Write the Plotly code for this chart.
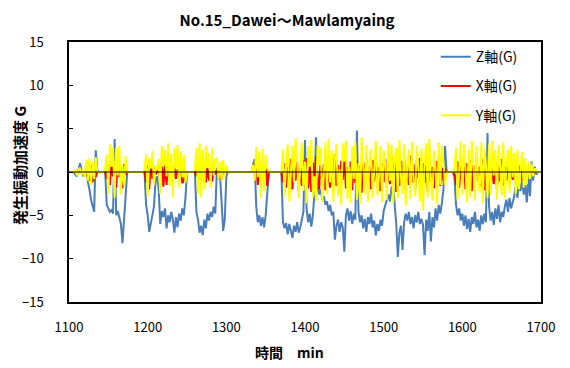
import plotly.graph_objects as go

# time axis: samples every 2 min from 1100 to 1700
time_start = 1100
time_step = 2

# Z axis (G) - blue, rows of 10 samples (20 min each)
z_vals = [
    0, 0, 0, 0, -0.3, -0.5, 0.2, 1.0, 0.2, -0.4,            # 1100
    -0.3, 0.8, -1.2, -2.0, -3.2, -3.8, -4.6, 2.5, 0.2, 0,    # 1120
    0, 0, 0, 0, -3.8, -4.2, -4.6, -4.4, -4.8, 3.8,           # 1140
    -5.0, -4.5, -5.2, -6.0, -8.2, -5.0, -2.0, 0, 0, 0,       # 1160
    0, 0, 0, 0, 0, 0, 0, 0, 0, -3.8,                         # 1180
    -5.0, -6.9, -6.0, -5.2, -4.0, -1.0, -0.5, -2.0, -6.0, -4.5,  # 1200
    -5.2, -4.2, -6.5, -5.0, -5.8, -4.6, -5.5, -7.0, -5.2, -6.4,  # 1220
    -4.8, -5.6, -4.2, -5.0, -3.0, 0, 0, 0, 0, 0,             # 1240
    0, -4.6, -5.5, -7.0, -6.2, -7.3, -5.5, -6.5, -4.8, -5.6,  # 1260
    -4.6, -5.2, -4.0, -4.8, 0.5, -0.8, -0.5, -3.5, -6.8, -5.5,  # 1280
    -0.5, 0, 0, 0, 0, 0, 0, 0, 0, 0,                         # 1300
    0, 0, 0, 0, 0, 0, 0, 0.8, 1.5, -4.0,                     # 1320
    -5.8, -5.0, -6.2, -5.2, -6.4, -5.0, -2.0, 0, 0, 0,       # 1340
    0, 0, 0, 0, 0, 0, -5.8, -6.5, -5.9, -7.2,                # 1360
    -6.0, -6.8, -7.6, -6.2, -6.9, -5.8, -7.0, -6.4, -5.5, -4.6,  # 1380
    3.7, -4.2, -5.8, -4.8, -6.3, -5.0, -2.5, 4.0, -1.8, -2.6,   # 1400
    -2.0, -3.2, -2.8, -3.8, -3.4, -4.5, -3.8, -5.0, -4.6, -7.8,  # 1420
    -6.2, -5.5, -6.9, -5.8, -6.4, -9.2, -5.0, -4.2, -5.6, -4.5,  # 1440
    -6.0, -4.8, -5.5, 4.8, -4.6, -5.8, -5.0, -6.5, -5.4, -6.9,   # 1460
    -5.2, -6.0, -4.8, -6.4, -5.6, -7.3, -6.0, -6.8, -5.5, -6.2,  # 1480
    -4.5, -3.8, -3.0, -2.6, -3.4, -1.8, -1.5, -3.5, -6.0, -9.8,  # 1500
    -7.0, -6.2, -9.0, -5.8, -4.8, -5.6, -4.6, -6.0, -5.2, -6.5,  # 1520
    -5.0, -5.8, -4.6, -6.0, -5.4, -6.1, -9.6, -5.5, -6.8, -4.6,  # 1540
    -8.0, -5.2, -6.4, -4.2, -5.6, -3.8, -4.8, -3.6, -2.0, 3.0,   # 1560
    0, 0, 0, 0, 0, -0.5, -3.8, -5.0, -4.2, -5.6,             # 1580
    -4.8, -6.2, -5.0, -6.6, -5.4, -6.9, -5.2, -6.0, -4.6, -6.4,  # 1600
    -5.5, -6.8, -5.0, -6.0, -4.8, -5.8, 4.5, -4.0, -5.6, -4.6,   # 1620
    -6.1, -4.2, -5.4, -3.8, -5.8, -4.6, -5.2, -4.0, -3.2, -4.6,  # 1640
    -3.0, -4.2, -3.5, -2.8, -1.5, -3.0, -1.2, -2.2, -0.8, -2.6,  # 1660
    -1.5, -3.5, -0.5, -2.8, 1.2, -1.0, 0.6, -0.3, 0, 0,      # 1680
    0,                                                       # 1700
]

# X axis (G) - red
x_vals = [
    0, 0, 0, 0, 0.1, -0.2, 0.1, 0.1, 0, -0.2,                # 1100
    0.1, -0.5, 0.6, -1.0, 0.8, -1.2, 0.5, -0.6, 0, 0,        # 1120
    0, 0, 0, 0, -0.8, 0.6, -1.5, 1.0, -0.5, 0.8,             # 1140
    -1.8, 1.2, -0.6, 0.3, -1.9, 0.9, -0.3, 0, 0, 0,          # 1160
    0, 0, 0, 0, 0, 0, 0, 0, 0, -1.2,                         # 1180
    0.8, -2.0, 1.0, -0.8, 0.5, -0.3, 0, 0.5, -1.0, 1.2,      # 1200
    -1.7, 0.8, -1.5, 1.0, -0.6, 0.4, -1.2, 0.6, -0.8, 0.3,   # 1220
    -0.5, 0.9, -1.3, -1.0, 0, 0, 0, 0, 0, 0,                 # 1240
    0, -0.5, 0.6, -0.8, 0.4, -0.6, 1.0, -1.2, 0.5, -1.0,     # 1260
    0.8, -1.1, 0.4, -0.3, 0.2, -0.4, 0.3, -0.9, 0.5, -0.3,   # 1280
    0.2, 0, 0, 0, 0, 0, 0, 0, 0, 0,                          # 1300
    0, 0, 0, 0, 0, 0, 0, 0.5, -0.3, 1.8,                     # 1320
    -1.5, 0.8, -0.6, 1.2, -0.5, 0.6, -1.6, 0, 0, 0,          # 1340
    0, 0, 0, 0, 0, 0, -1.2, 1.0, -1.8, 0.6,                  # 1360
    -1.4, 1.5, -2.0, 0.8, -1.0, 1.2, -2.2, 0.5, -1.6, 1.4,   # 1380
    -0.8, 1.6, -1.9, 0.7, -2.3, 1.1, -1.2, 1.8, -0.6, -2.0,  # 1400
    1.3, -1.5, 0.9, -2.1, 1.6, -0.7, -1.8, 1.0, -1.3, 2.0,   # 1420
    -1.6, 0.8, -2.2, 1.3, -0.9, 1.7, -1.9, 0.6, -1.4, 1.2,   # 1440
    -2.1, 0.9, -1.3, 1.5, -1.8, 0.7, -2.4, 1.2, -0.8, 1.6,   # 1460
    -1.5, 0.6, -2.0, 1.4, -1.1, 1.8, -1.7, 0.5, -2.2, 1.0,   # 1480
    -1.2, 1.5, -1.9, 0.8, -1.4, 2.0, -1.0, 1.1, -2.3, 0.7,   # 1500
    -1.6, 1.3, -0.9, 1.7, -2.1, 0.6, -1.5, 1.9, -1.2, 0.9,   # 1520
    -2.0, 1.4, -0.7, 1.6, -1.8, 1.0, -1.3, 0.8, -2.2, 1.5,   # 1540
    -1.1, 0.6, -1.9, 1.3, -0.8, 1.7, -1.6, 0.5, -1.0, 0.4,   # 1560
    0, 0, 0, 0, 0, -0.3, -1.5, 1.2, -1.8, 0.7,               # 1580
    -1.3, 1.6, -2.0, 1.0, -0.9, 1.4, -2.2, 0.8, -1.5, 1.8,   # 1600
    -1.0, 0.6, -1.7, 1.5, -2.1, 0.9, -1.2, 1.3, -1.9, 0.7,   # 1620
    -1.4, 1.2, -2.0, 0.8, -1.1, 1.5, -1.6, 0.6, -1.0, 0.9,   # 1640
    -1.5, 0.7, -0.9, 1.1, -1.3, 0.5, -0.6, 0.8, -1.0, 0.4,   # 1660
    -0.6, 0.5, -0.4, 0.3, -0.2, 0.2, -0.1, 0, 0, 0,          # 1680
    0,                                                       # 1700
]

# Y axis (G) - yellow
y_vals = [
    0, 0, 0, 0, 0.3, -0.4, 0.2, 0.5, -0.3, 0.2,              # 1100
    -0.6, 1.4, -1.0, 1.6, -1.5, 1.2, -0.8, 1.7, 0, 0,        # 1120
    0, 0, 0, 0.5, 2.0, -2.5, 3.2, 0.6, 2.8, -3.0,            # 1140
    2.8, -0.4, 3.0, -2.6, 0.8, -1.5, 1.8, 0, 0, 0,           # 1160
    0, 0, 0, 0, 0, 0, 0, 0, 0.3, 2.0,                        # 1180
    -2.8, 1.6, 0.4, 2.4, -1.5, 0.8, 0.2, 1.5, -2.5, 3.0,     # 1200
    0.6, 2.6, -0.5, 3.3, -1.6, 2.2, -2.9, 2.8, 0.4, 3.1,     # 1220
    -1.8, 2.4, -0.6, 2.0, -1.2, 0, 0, 0, 0, 0,               # 1240
    0.3, 2.8, -2.5, 3.3, -2.9, 2.6, -2.0, 3.0, 0.5, 2.2,     # 1260
    -1.8, 2.7, -0.4, 1.5, 1.6, -0.8, 1.2, -1.0, 1.4, -0.6,   # 1280
    0.8, 0, 0, 0, 0, 0, 0, 0, 0, 0,                          # 1300
    0, 0, 0, 0, 0, 0, 0, 0.8, -1.0, 2.9,                     # 1320
    -0.6, 2.4, -3.0, 2.7, -2.2, 2.0, 0.4, 0, 0, 0,           # 1340
    0, 0, 0, 0, 0, 0, 2.6, -2.8, 1.0, 3.2,                   # 1360
    -3.4, 0.5, 3.0, -1.2, 3.9, 1.5, -3.0, 0.8, 3.4, -2.2,    # 1380
    1.2, -3.6, 3.0, 0.6, 3.7, -2.9, -0.5, -3.3, 3.1, 0.8,    # 1400
    2.8, -3.5, 1.0, 3.4, -2.6, 3.8, -1.2, 2.5, -3.4, 1.5,    # 1420
    3.2, -2.7, 0.3, -3.8, 3.3, 1.2, 3.6, -3.1, 0.6, -3.6,    # 1440
    3.0, -0.8, 3.5, -3.2, 1.0, -3.7, 4.0, 0.5, -2.6, 3.1,    # 1460
    -3.4, 1.2, 2.6, -3.0, 0.4, 3.6, -2.7, -0.6, 3.0, -3.5,   # 1480
    2.5, 0.8, -3.2, 3.4, -1.0, 3.1, -3.6, 1.3, 2.8, -3.0,    # 1500
    3.7, -0.5, -2.5, 3.2, -3.9, 0.9, 2.6, -3.1, 3.5, -1.2,   # 1520
    -2.8, 3.0, 0.6, -3.4, 2.7, -4.4, 1.1, 3.3, -2.9, 3.8,    # 1540
    -0.8, -3.3, 2.5, 0.4, -3.7, 3.4, -1.5, 3.0, 1.2, -1.5,   # 1560
    0, 0, 0, 0, 0, 0.5, 2.8, -3.2, 0.6, 3.5,                 # 1580
    -2.6, 3.2, 0.4, -3.5, 2.6, -2.9, 3.6, 1.0, -3.3, 3.0,    # 1600
    -0.6, -2.4, 3.4, -3.6, 2.7, 0.8, -3.0, 3.3, -2.6, 3.6,   # 1620
    -0.4, 2.5, -3.2, 3.1, 1.0, -2.7, 3.4, -3.0, 0.5, 2.6,    # 1640
    -2.4, 3.0, -0.6, 2.2, -2.5, 2.6, -2.0, 0.8, 2.3, -1.8,   # 1660
    1.6, -1.4, 1.2, -0.8, 1.0, -0.5, 0.4, 0, 0, 0,           # 1680
    0,                                                       # 1700
]

time_min = [time_start + i * time_step for i in range(len(z_vals))]

x_ticks = [1100, 1200, 1300, 1400, 1500, 1600, 1700]
y_ticks = [-15, -10, -5, 0, 5, 10, 15]

FONT = "Noto Sans CJK JP"

# the page adds an 8px body margin, so the figure is drawn 8px smaller
FIG_W, FIG_H = 562, 360
PLOT_L, PLOT_T = 61, 34
PLOT_W, PLOT_H = 472, 260

fig = go.Figure()
fig.add_trace(go.Scatter(x=time_min, y=z_vals, mode="lines", name="Z軸(G)",
                         line=dict(color="#4A7EBB", width=2), legendgroup="z"))
fig.add_trace(go.Scatter(x=time_min, y=x_vals, mode="lines", name="X軸(G)",
                         line=dict(color="#FF0000", width=2), legendgroup="x"))
fig.add_trace(go.Scatter(x=time_min, y=y_vals, mode="lines", name="Y軸(G)",
                         line=dict(color="#FFFF00", width=2), legendgroup="y"))

fig.update_layout(
    width=FIG_W, height=FIG_H,
    margin=dict(l=PLOT_L, r=FIG_W - PLOT_L - PLOT_W, t=PLOT_T,
                b=FIG_H - PLOT_T - PLOT_H),
    paper_bgcolor="white", plot_bgcolor="white",
    font=dict(family=FONT, size=13, color="black"),
    title=dict(text="<b>No.15_Dawei～Mawlamyaing</b>", x=(287 - 8) / FIG_W,
               xanchor="center", y=1 - 13 / FIG_H, yanchor="middle",
               font=dict(size=15)),
    showlegend=True,
    legend=dict(x=0.777, y=1.003, xanchor="left", yanchor="top",
                bgcolor="rgba(0,0,0,0)", tracegroupgap=8,
                font=dict(size=14), itemwidth=30),
    annotations=[
        dict(text="<b>時間　min</b>", xref="paper", yref="paper",
             x=(289 - 69) / PLOT_W, y=-50 / PLOT_H, xanchor="center",
             yanchor="middle", showarrow=False, font=dict(size=14)),
        dict(text="<b>発生振動加速度 G</b>", xref="paper", yref="paper",
             x=-50 / PLOT_W, y=(302 - 166) / PLOT_H, xanchor="center",
             yanchor="middle", textangle=-90, showarrow=False,
             font=dict(size=15)),
    ],
    shapes=[
        dict(type="line", xref="paper", yref="y", x0=0, x1=1, y0=0, y1=0,
             line=dict(color="black", width=1), layer="above"),
    ],
)
fig.update_xaxes(range=[1100, 1700], tickvals=x_ticks, showgrid=False,
                 zeroline=False, showline=True, linecolor="black", linewidth=1.5,
                 mirror=True, ticks="", ticklabelstandoff=13, automargin=False)
fig.update_yaxes(range=[-15, 15], tickvals=y_ticks, showgrid=False,
                 zeroline=False,
                 showline=True, linecolor="black", linewidth=1.5, mirror=True,
                 ticks="inside", ticklen=4, tickcolor="black", ticklabelstandoff=21,
                 automargin=False)

fig.write_html("out.html")
